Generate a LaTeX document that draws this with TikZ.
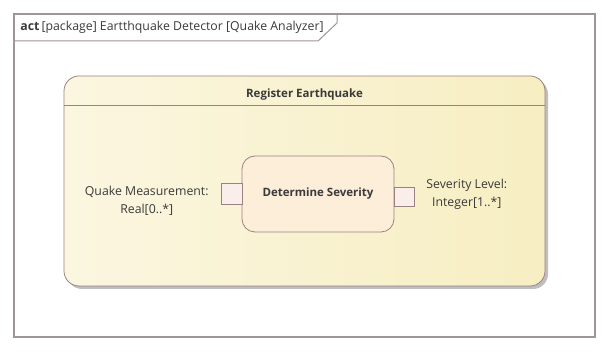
\documentclass[tikz,border=0pt]{standalone}
\usepackage{fontspec}
\setmainfont{Open Sans}
\usetikzlibrary{shadows}
\definecolor{umlline}{HTML}{9A8282}
\definecolor{frameline}{HTML}{A09494}
\definecolor{actleft}{HTML}{FBF6E0}
\definecolor{actright}{HTML}{F7EEC2}
\definecolor{actionfill}{HTML}{FDEEDA}
\definecolor{pinfill}{HTML}{F9EEEA}
\definecolor{umltext}{HTML}{3A3A3A}

\begin{document}
\begin{tikzpicture}[x=1pt,y=-1pt,line width=0.8pt,
  every node/.style={text=umltext,font=\fontsize{12.3}{18}\selectfont},
  boldtext/.style={font=\fontsize{11.5}{14}\selectfont\bfseries},
  activitybox/.style={draw=umlline,rounded corners=15pt,inner sep=0pt,outer sep=0pt,
    left color=actleft,right color=actright,
    drop shadow={shadow xshift=3pt,shadow yshift=-3pt,fill=black!25,opacity=1}},
  actionbox/.style={draw=umlline,fill=actionfill,rounded corners=13pt,inner sep=0pt,outer sep=0pt},
  pinbox/.style={draw=umlline,fill=pinfill,inner sep=0pt,outer sep=0pt},
  pinlabel/.style={align=center,inner sep=0pt}]
\useasboundingbox (0,0) rectangle (611,352);
% ---------- diagram frame ----------
\draw[frameline,line width=1.5pt] (14,14) rectangle (595,337);
\draw[frameline,line width=1pt] (14,41) -- (318,41) -- (337,23) -- (337,14);
\node[anchor=west,inner sep=0pt] (frametitle) at (20,27)
  {\textbf{act}\,[package] Eartthquake Detector [Quake Analyzer]};
% ---------- activity ----------
\node[activitybox,minimum width=481pt,minimum height=210pt] (register) at (304.5,181) {};
\draw[umlline] ([yshift=-29.5pt]register.north west) -- ([yshift=-29.5pt]register.north east);
\node[boldtext] (registertitle) at ([yshift=-19pt]register.north) {Register Earthquake};
% ---------- action with pins ----------
\node[actionbox,boldtext,minimum width=152pt,minimum height=76pt] (severity) at (318,194) {Determine Severity};
\node[pinbox,minimum width=21pt,minimum height=21pt,anchor=east] (quakepin) at ([yshift=0.5pt]severity.west) {};
\node[pinbox,minimum width=20pt,minimum height=19pt,anchor=west] (levelpin) at ([yshift=-2.5pt]severity.east) {};
\node[pinlabel,anchor=east] (quakelabel) at ([xshift=-12pt,yshift=-7.5pt]quakepin.west)
  {Quake Measurement:\\Real[0..*]};
\node[pinlabel,anchor=west] (levellabel) at ([xshift=12pt,yshift=2.5pt]levelpin.east)
  {Severity Level:\\Integer[1..*]};
\end{tikzpicture}
\end{document}
